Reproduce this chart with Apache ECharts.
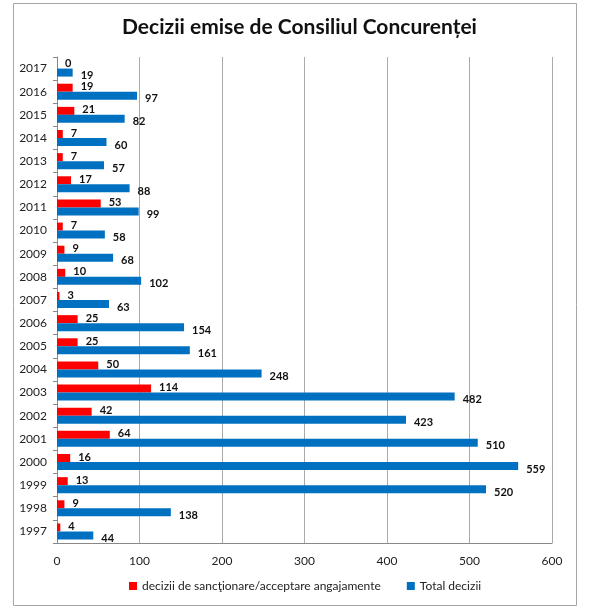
<!DOCTYPE html>
<html>
<head>
<meta charset="utf-8">
<script src="https://cdn.jsdelivr.net/npm/echarts@6/dist/echarts.min.js"></script>
<style>html,body{margin:0;padding:0;background:#fff;}#c{width:605px;height:615px;}</style>
</head>
<body>
<div id="c"></div>
<script>
const years = ['1997','1998','1999','2000','2001','2002','2003','2004','2005','2006','2007','2008','2009','2010','2011','2012','2013','2014','2015','2016','2017'];
const sanctions = [4,9,13,16,64,42,114,50,25,25,3,10,9,7,53,17,7,7,21,19,0];
const totals = [44,138,520,559,510,423,482,248,161,154,63,102,68,58,99,88,57,60,82,97,19];
const xTicks = {min:0, max:600, interval:100};
const font = 'Lato, "Open Sans", sans-serif';

const chart = echarts.init(document.getElementById('c'));
chart.setOption({
  animation:false,
  textStyle:{fontFamily:font},
  title:{text:'Decizii emise de Consiliul Concurenței', left:117, top:12,
    textStyle:{fontSize:21, fontWeight:'bold', color:'#111', fontFamily:font}},
  graphic:[{type:'rect', shape:{x:13.5,y:3.5,width:563,height:602}, style:{fill:'none', stroke:'#a6a6a6', lineWidth:1}, silent:true, z:-1}],
  legend:{bottom:18, left:124, itemWidth:8, itemHeight:8, itemGap:26, icon:'rect',
    textStyle:{fontSize:12, color:'#222', fontFamily:font}},
  grid:{left:57, right:53, top:57, bottom:72},
  xAxis:{type:'value', min:xTicks.min, max:xTicks.max, interval:xTicks.interval,
    axisLine:{show:true, lineStyle:{color:'#888'}}, axisTick:{show:false},
    axisLabel:{color:'#222', fontSize:12, margin:12},
    splitLine:{lineStyle:{color:'#aaa'}}},
  yAxis:{type:'category', data:years,
    axisLine:{lineStyle:{color:'#888'}}, axisTick:{show:true, length:4, lineStyle:{color:'#888'}},
    axisLabel:{color:'#222', fontSize:12, margin:10}},
  series:[
    {name:'decizii de sancţionare/acceptare angajamente', type:'bar', data:sanctions, barWidth:8, barGap:'0%', itemStyle:{color:'#ff0000'},
     label:{show:true, position:'right', distance:8, color:'#111', fontWeight:'bold', fontSize:11, offset:[0,-1]}},
    {name:'Total decizii', type:'bar', data:totals, barWidth:8, itemStyle:{color:'#0070c0'},
     label:{show:true, position:'right', distance:8, color:'#111', fontWeight:'bold', fontSize:11, offset:[0,3]}}
  ]
});
</script>
</body>
</html>
